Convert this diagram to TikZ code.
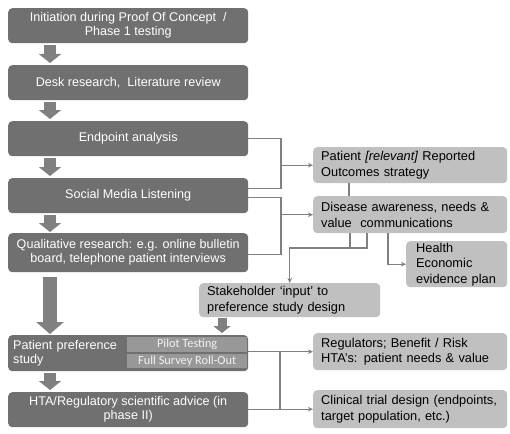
\documentclass[tikz,border=0pt]{standalone}
\usepackage{fontspec}
\setmainfont{Liberation Sans}
\newfontfamily\calib{Carlito}
\usetikzlibrary{arrows.meta,calc}
\definecolor{dk}{RGB}{112,112,112}
\definecolor{lt}{RGB}{192,192,192}
\definecolor{ar}{RGB}{128,128,128}
\definecolor{subc}{RGB}{152,152,152}
\definecolor{subt}{RGB}{242,242,242}
\begin{document}
\begin{tikzpicture}[x=1pt,y=-1pt,
  leftbox/.style={fill=dk, rounded corners=4pt, minimum width=240pt, text=white,
    font=\fontsize{12.6}{14}\selectfont, align=center, inner sep=2pt, anchor=north west},
  rightbox/.style={fill=lt, rounded corners=4pt, text=black, anchor=north west,
    font=\fontsize{12.8}{15.5}\selectfont, align=left, inner ysep=1pt},
  subbox/.style={fill=subc, text=subt, anchor=north west, minimum width=120pt,
    font=\calib\fontsize{12.3}{13}\selectfont, inner sep=0pt, align=center},
  blk/.style={draw=ar, line width=12pt, -{Triangle[width=22pt,length=9pt]}},
  bigblk/.style={draw=ar, line width=14pt, -{Triangle[width=27pt,length=12pt]}},
  smblk/.style={draw=ar, line width=9pt, -{Triangle[width=17pt,length=7pt]}},
  conn/.style={draw=ar, line width=1.1pt},
  tip/.style={-{Stealth[length=5pt,width=4.5pt]}}
]
\useasboundingbox (0,0) rectangle (510,433);
% left column
\node[leftbox, minimum height=35pt] (b1) at (8,8) {Initiation during Proof Of Concept\ \ /\\Phase 1 testing};
\node[leftbox, minimum height=35pt] (b2) at (8,65) {Desk research,\ \ Literature review};
\node[leftbox, minimum height=35pt] (b3) at (8,121) {Endpoint analysis};
\node[leftbox, minimum height=35pt] (b4) at (8,178) {Social Media Listening};
\node[leftbox, minimum height=39pt] (b5) at (8,233) {Qualitative research: e.g. online bulletin\\board, telephone patient interviews};
\node[leftbox, minimum height=36pt, text width=230pt, align=left, inner xsep=5pt] (b6) at (8,335) {Patient preference\\study};
\node[leftbox, minimum height=35pt] (b7) at (8,392) {HTA/Regulatory scientific advice (in\\phase II)};
\node[subbox, minimum height=15pt] (s1) at (127,337) {Pilot Testing};
\node[subbox, minimum height=14pt] (s2) at (127,354) {Full Survey Roll-Out};
% right column
\node[rightbox, minimum width=194pt, minimum height=36pt, text width=178pt] (r1) at (313,147) {Patient \textit{[relevant]} Reported\\Outcomes strategy};
\node[rightbox, minimum width=194pt, minimum height=37pt, text width=178pt] (r2) at (313,196) {Disease awareness, needs \&\\value\ \ communications};
\node[rightbox, minimum width=101pt, minimum height=46pt, text width=81pt, inner xsep=10pt] (r3) at (406,241) {Health\\Economic\\evidence plan};
\node[rightbox, minimum width=181pt, minimum height=34pt, text width=165pt] (r4) at (199,283) {Stakeholder ‘input’ to\\preference study design};
\node[rightbox, minimum width=194pt, minimum height=37pt, text width=178pt] (r5) at (313,333) {Regulators; Benefit / Risk\\HTA’s: patient needs \& value};
\node[rightbox, minimum width=194pt, minimum height=38pt, text width=178pt] (r6) at (313,390) {Clinical trial design (endpoints,\\target population, etc.)};
% block arrows
\draw[blk] ($(b1.south west)+(42,2)$) -- ($(b2.north west)+(42,-2)$);
\draw[blk] ($(b2.south west)+(42,2)$) -- ($(b3.north west)+(42,-2)$);
\draw[blk] ($(b3.south west)+(42,2)$) -- ($(b4.north west)+(42,-2)$);
\draw[blk] ($(b4.south west)+(42,2)$) -- ($(b5.north west)+(42,-1)$);
\draw[bigblk] ($(b5.south west)+(42,5)$) -- ($(b6.north west)+(42,-1)$);
\draw[blk] ($(b6.south west)+(42,2)$) -- ($(b7.north west)+(42,-2)$);
\draw[smblk] ($(r4.south west)+(23,1)$) -- ($(r4.south west |- b6.north)+(23,-2)$);
% connectors
\coordinate (k1) at (281,0);
\coordinate (k3) at (280,0);
\coordinate (m) at (367,248);
\draw[conn] (b3.east) -- (b3.east -| k1) -- ($(b4.east -| k1)+(0,-7.5)$) -- ($(b4.east)+(0,-7.5)$);
\draw[conn,tip] (k1 |- r1.west) -- (r1.west);
\draw[conn] ($(b4.east)+(0,1.5)$) -- ($(b4.east -| k1)+(0,1.5)$) -- ($(b5.east -| k1)+(0,2)$) -- ($(b5.east)+(0,2)$);
\draw[conn,tip] (k1 |- r2.west) -- (r2.west);
\draw[conn] ($(r1.south west)+(36,0)$) -- ($(r2.north west)+(36,0)$);
\draw[conn] ($(r2.south west)+(37,0)$) -- ($(r2.south west)+(37,15)$);
\draw[conn,tip] (m |- r2.south) -- (m) -- (m -| r4.north) -- (r4.north);
\draw[conn,tip] ($(r2.south west)+(75,0)$) |- (r3.west);
\draw[conn,tip] (b6.east |- r5.west) -- (r5.west);
\draw[conn,tip] (b7.east |- r6.west) -- (r6.west);
\draw[conn] (k3 |- r5.west) -- (k3 |- r6.west);
\end{tikzpicture}
\end{document}
